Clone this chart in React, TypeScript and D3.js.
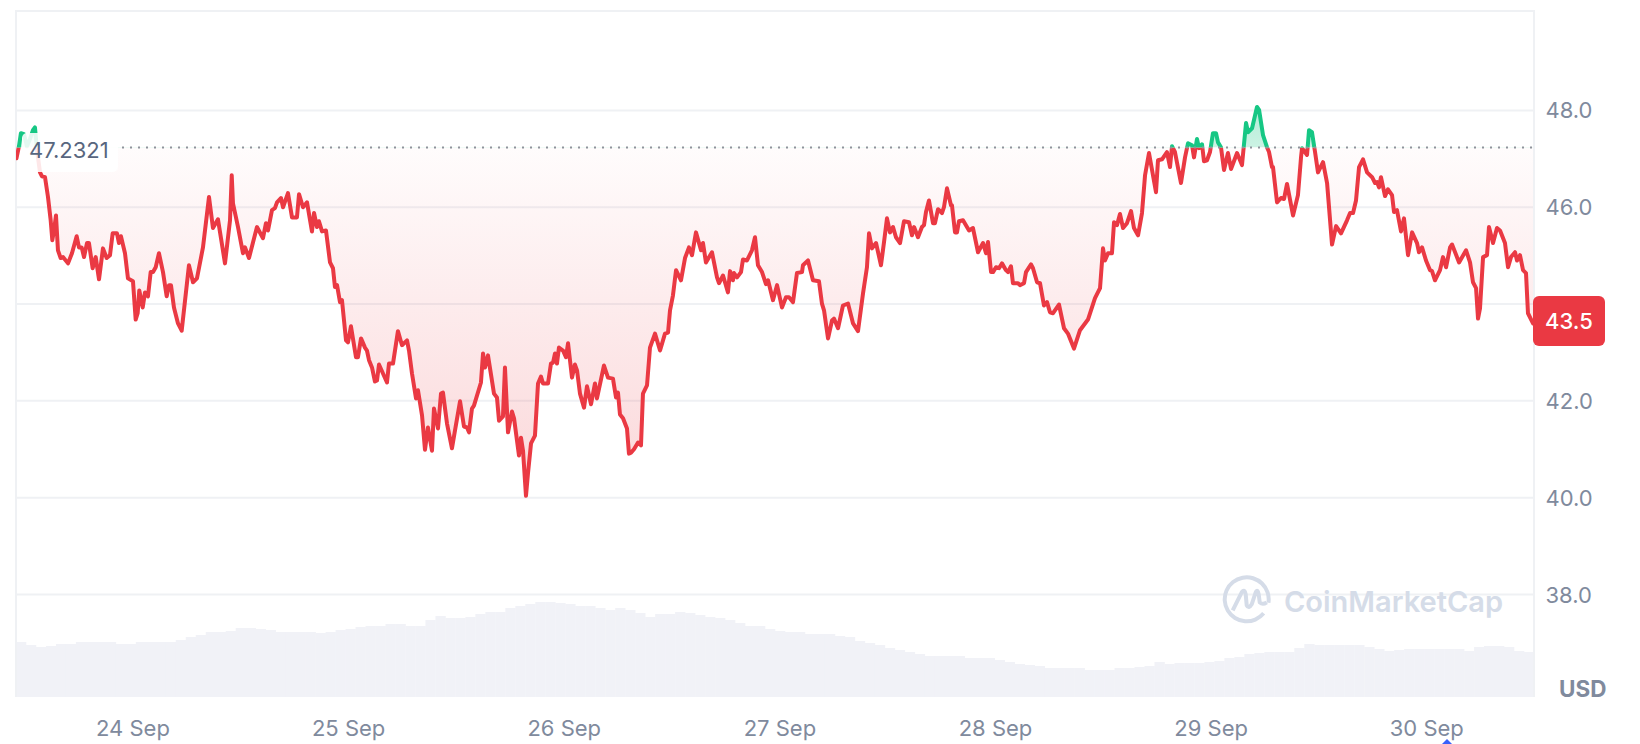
import { useEffect, useRef } from "react";
import * as d3 from "d3";

type Point = [number, number];

// [hours since 24 Sep 00:00, price in USD]
const sep23: Point[] = [
  [-12.97, 47.01], [-12.69, 47.26], [-12.47, 47.53], [-12.13, 47.51], [-11.8, 47.26], [-11.46, 47.41], [-11.13, 47.59], [-10.91, 47.65],
  [-10.68, 47.18], [-10.35, 46.72], [-10.13, 46.64], [-9.79, 46.62], [-9.46, 46.21], [-9.16, 45.73], [-8.98, 45.32], [-8.79, 45.52],
  [-8.57, 45.83], [-8.35, 45.11], [-8.05, 44.95], [-7.79, 44.97], [-7.23, 44.84], [-6.79, 45.05], [-6.27, 45.4], [-6.01, 45.17],
  [-5.71, 45.17], [-5.45, 44.97], [-5.12, 45.26], [-4.9, 45.26], [-4.49, 44.74], [-4.15, 44.97], [-3.78, 44.51], [-3.34, 45.15],
  [-2.93, 44.95], [-2.56, 45.01], [-2.26, 45.46], [-1.78, 45.46], [-1.56, 45.26], [-1.34, 45.4], [-0.89, 45.05], [-0.56, 44.53],
];
const sep24: Point[] = [
  [0, 44.47], [0.3, 43.68], [0.52, 43.81], [0.7, 44.28], [1.08, 43.93], [1.34, 44.24], [1.67, 44.16], [1.97, 44.66], [2.23, 44.66],
  [2.53, 44.76], [2.89, 45.05], [3.34, 44.66], [3.75, 44.16], [4.01, 44.39], [4.23, 44.39], [4.56, 43.93], [5.01, 43.6], [5.42, 43.45],
  [6.23, 44.8], [6.68, 44.45], [7.12, 44.53], [7.79, 45.17], [8.46, 46.21], [8.9, 45.57], [9.46, 45.75], [10.24, 44.84], [10.8, 45.73],
  [10.99, 46.66], [11.13, 46.08], [11.69, 45.59], [12.24, 45.05], [12.47, 45.17], [12.91, 44.95], [13.8, 45.59], [14.47, 45.36],
  [14.8, 45.67], [15.03, 45.52], [15.47, 45.94], [15.8, 45.98], [16.03, 46.1], [16.47, 46.19], [16.7, 46.0], [17.25, 46.29], [17.7, 45.79],
  [18.25, 45.79], [18.48, 46.27], [18.92, 46.0], [19.37, 46.1], [19.92, 45.5], [20.15, 45.88], [20.48, 45.59], [20.7, 45.71], [21.04, 45.5],
  [21.48, 45.52], [21.93, 44.86], [22.26, 44.74], [22.48, 44.35], [22.71, 44.39], [23.04, 44.04], [23.26, 44.08], [23.71, 43.25], [23.93, 43.21],
];
const sep25: Point[] = [
  [24.26, 43.54], [24.82, 42.9], [25.04, 42.9], [25.38, 43.29], [25.82, 43.1], [26.04, 43.04], [26.27, 42.84], [26.6, 42.69], [26.93, 42.4],
  [27.16, 42.42], [27.38, 42.75], [28.27, 42.38], [28.49, 42.77], [28.94, 42.77], [29.49, 43.44], [29.94, 43.15], [30.5, 43.25], [30.72, 43.04],
  [31.05, 42.57], [31.5, 42.05], [31.72, 42.22], [32.17, 41.7], [32.5, 40.99], [32.83, 41.45], [33.28, 40.97], [33.5, 41.84], [33.95, 41.43],
  [34.28, 42.15], [34.5, 42.17], [34.95, 41.53], [35.5, 41.02], [35.84, 41.39], [36.4, 41.99], [36.84, 41.47], [37.17, 41.45], [37.4, 41.35],
  [37.73, 41.84], [37.95, 41.9], [38.73, 42.38], [38.96, 42.98], [39.18, 42.69], [39.51, 42.94], [40.18, 42.15], [40.51, 42.07], [40.74, 41.59],
  [41.18, 41.68], [41.4, 42.69], [41.74, 41.35], [42.18, 41.78], [42.41, 41.64], [42.96, 40.87], [43.18, 41.24], [43.41, 40.97], [43.74, 40.04],
  [43.96, 40.5], [44.3, 41.12], [44.74, 41.28], [45.08, 42.36], [45.41, 42.5], [45.63, 42.36], [46.19, 42.36], [46.52, 42.77], [46.75, 42.79],
  [46.97, 42.98], [47.19, 42.77], [47.41, 43.1], [47.86, 43.04],
];
const sep26: Point[] = [
  [48.19, 42.9], [48.42, 43.19], [48.86, 42.48], [49.19, 42.75], [49.42, 42.63], [49.75, 42.15], [50.2, 41.86], [50.53, 42.3], [50.98, 41.93],
  [51.42, 42.36], [51.64, 42.05], [52.42, 42.73], [52.87, 42.48], [53.42, 42.46], [53.76, 42.07], [53.98, 42.17], [54.2, 41.72], [54.54, 41.64],
  [54.98, 41.43], [55.2, 40.91], [55.43, 40.93], [55.76, 41.0], [56.21, 41.14], [56.54, 41.08], [56.76, 42.15], [57.21, 42.32], [57.54, 43.1],
  [58.1, 43.39], [58.66, 43.04], [59.21, 43.39], [59.55, 43.41], [59.77, 43.87], [60.1, 44.18], [60.44, 44.7], [60.99, 44.49], [61.44, 44.95],
  [61.88, 45.17], [62.22, 45.01], [62.66, 45.48], [63.22, 45.11], [63.44, 45.26], [63.77, 44.86], [64.44, 45.07], [65.0, 44.55], [65.22, 44.43],
  [65.67, 44.59], [66.22, 44.24], [66.45, 44.68], [66.78, 44.49], [66.89, 44.64], [67.23, 44.55], [67.67, 44.66], [67.89, 44.92], [68.34, 44.9],
  [68.89, 45.11], [69.23, 45.38], [69.56, 44.8], [70.01, 44.66], [70.45, 44.41], [70.68, 44.49], [71.23, 44.08], [71.68, 44.39],
];
const sep27: Point[] = [
  [72.23, 43.93], [72.68, 44.14], [73.01, 44.14], [73.46, 44.04], [73.9, 44.64], [74.46, 44.66], [74.57, 44.8], [75.13, 44.9], [75.68, 44.49],
  [76.35, 44.47], [76.68, 44.01], [76.91, 43.87], [77.36, 43.29], [77.8, 43.66], [78.02, 43.7], [78.47, 43.5], [79.02, 43.97], [79.58, 44.01],
  [80.14, 43.6], [80.69, 43.44], [81.25, 44.22], [81.69, 44.76], [81.92, 45.46], [82.25, 45.15], [82.7, 45.26], [83.25, 44.8], [83.59, 45.28],
  [83.92, 45.77], [84.25, 45.48], [84.59, 45.59], [84.92, 45.38], [85.37, 45.26], [85.81, 45.71], [86.37, 45.69], [86.7, 45.42], [86.93, 45.59],
  [87.37, 45.38], [87.81, 45.59], [88.04, 45.63], [88.26, 45.9], [88.59, 46.14], [89.04, 45.67], [89.26, 45.67], [89.6, 45.96], [90.04, 45.88],
  [90.26, 46.0], [90.6, 46.39], [91.04, 46.04], [91.15, 46.04], [91.49, 45.48], [91.71, 45.48], [91.93, 45.71], [92.38, 45.73], [93.05, 45.52],
  [93.49, 45.57], [94.05, 45.07], [94.61, 45.26], [94.94, 45.05], [95.16, 45.28], [95.5, 44.66], [95.72, 44.66],
];
const sep28: Point[] = [
  [96.05, 44.76], [96.39, 44.74], [96.72, 44.84], [97.16, 44.7], [97.39, 44.66], [97.72, 44.78], [97.94, 44.43], [98.5, 44.43], [98.72, 44.39],
  [99.17, 44.43], [99.39, 44.66], [99.95, 44.82], [100.17, 44.74], [100.62, 44.45], [100.95, 44.43], [101.39, 43.97], [101.73, 44.04], [102.06, 43.83],
  [102.4, 43.81], [103.06, 43.99], [103.62, 43.5], [104.06, 43.39], [104.73, 43.08], [105.4, 43.46], [106.29, 43.68], [107.07, 44.12], [107.63, 44.33],
  [107.96, 45.15], [108.18, 44.9], [108.52, 45.05], [108.96, 45.05], [109.19, 45.69], [109.52, 45.63], [109.85, 45.86], [110.19, 45.57], [110.63, 45.67],
  [111.08, 45.92], [111.41, 45.57], [111.86, 45.42], [112.3, 45.88], [112.64, 46.66], [113.08, 47.12], [113.86, 46.31], [114.08, 46.97], [114.53, 46.99],
  [115.08, 47.14], [115.42, 46.83], [115.64, 47.26], [115.97, 47.14], [116.64, 46.5], [117.09, 47.03], [117.42, 47.32], [117.87, 47.28], [118.09, 47.03],
  [118.42, 47.41], [118.65, 47.22], [118.98, 47.3], [119.2, 46.95], [119.54, 46.97], [119.87, 47.14],
];
const sep29: Point[] = [
  [120.2, 47.53], [120.54, 47.53], [120.76, 47.34], [121.09, 47.24], [121.43, 46.77], [121.87, 47.12], [122.21, 46.79], [122.88, 47.12], [123.43, 46.87],
  [123.88, 47.74], [124.1, 47.55], [124.55, 47.63], [125.1, 48.07], [125.33, 48.01], [125.77, 47.49], [126.21, 47.24], [126.44, 47.14], [126.77, 46.83],
  [126.88, 46.83], [127.33, 46.1], [127.77, 46.19], [128.11, 46.17], [128.44, 46.48], [129.11, 45.83], [129.66, 46.25], [130.0, 47.03], [130.11, 47.22],
  [130.67, 47.08], [130.89, 47.59], [131.22, 47.55], [131.56, 47.14], [131.89, 46.72], [132.45, 46.93], [132.9, 46.5], [133.45, 45.23], [133.9, 45.61],
  [134.45, 45.46], [135.12, 45.73], [135.46, 45.88], [135.79, 45.88], [136.12, 46.14], [136.46, 46.83], [136.9, 46.99], [137.35, 46.72], [137.91, 46.62],
  [138.24, 46.5], [138.46, 46.52], [138.68, 46.41], [138.9, 46.62], [139.35, 46.23], [139.68, 46.37], [140.13, 46.25], [140.35, 45.9], [140.68, 45.94],
  [141.13, 45.5], [141.46, 45.77], [141.91, 45.01], [142.36, 45.48], [142.91, 45.26], [143.13, 45.07], [143.47, 45.17], [143.91, 44.9],
];
const sep30: Point[] = [
  [144.36, 44.7], [144.58, 44.68], [144.91, 44.49], [145.47, 44.7], [145.8, 44.97], [146.14, 44.76], [146.59, 45.17], [146.81, 45.23], [147.59, 44.86],
  [148.37, 45.11], [148.81, 44.86], [149.14, 44.45], [149.48, 44.33], [149.7, 43.7], [149.92, 43.91], [150.26, 44.97], [150.7, 45.01], [150.92, 45.59],
  [151.37, 45.26], [151.81, 45.57], [152.15, 45.52], [152.7, 45.26], [153.04, 44.76], [153.37, 44.97], [153.82, 45.07], [154.04, 44.9], [154.37, 45.01],
  [154.71, 44.7], [155.04, 44.64], [155.26, 43.81], [155.82, 43.6],
];

// relative 24h volume, evenly spaced over the window
const volumes = [
  55, 52, 50, 51, 53, 53, 55, 55, 55, 55, 53, 53, 55, 55, 55, 55, 57, 60, 62, 65, 65, 66, 69, 69, 68, 67, 65, 65, 65, 65, 64, 65, 67, 68, 70, 71, 71, 73,
  73, 71, 71, 77, 81, 79, 79, 80, 83, 85, 85, 89, 91, 93, 95, 95, 94, 93, 91, 91, 89, 87, 89, 87, 84, 80, 83, 83, 85, 84, 82, 80, 79, 77, 74, 71, 71, 68,
  66, 65, 65, 63, 63, 63, 61, 60, 56, 54, 52, 49, 47, 45, 43, 41, 41, 41, 41, 39, 39, 39, 37, 35, 33, 32, 31, 29, 29, 29, 29, 27, 27, 27, 29, 29, 30, 31,
  35, 33, 34, 34, 34, 35, 36, 39, 40, 43, 44, 45, 45, 45, 49, 53, 52, 52, 52, 52, 52, 50, 48, 46, 47, 48, 48, 48, 48, 48, 48, 46, 50, 51, 51, 50, 46, 45,
];

const dayLabels = ["24 Sep", "25 Sep", "26 Sep", "27 Sep", "28 Sep", "29 Sep", "30 Sep"];
const priceTicks = [38, 40, 42, 44, 46, 48];
const priceLabels = [38, 40, 42, 46, 48]; // 44.0 sits behind the price tag
const openPrice = 47.2321;
const lastPrice = 43.5;

const prices = [...sep23, ...sep24, ...sep25, ...sep26, ...sep27, ...sep28, ...sep29, ...sep30];

const RED = "#ea3943";
const GREEN = "#16c784";
const GREY = "#808a9d";
const FONT = "Inter, sans-serif";
const MARK = "#d5dce8";

export default function App() {
  const ref = useRef<SVGSVGElement>(null);

  useEffect(() => {
    if (!ref.current) return;
    const svg = d3.select(ref.current);
    svg.selectAll("*").remove();

    const left = 16;
    const right = 1534;
    const top = 11;
    const bottom = 697;

    const x = d3.scaleLinear().domain([-13.02, 155.93]).range([left, right]);
    const y = d3.scaleLinear().domain([38, 48]).range([594.5, 110.4]);
    const volY = d3.scaleLinear().domain([0, 100]).range([bottom, bottom - 100]);
    const volX = d3.scaleBand<number>().domain(d3.range(volumes.length)).range([left, right]);
    const base = y(openPrice);

    const defs = svg.append("defs");
    const redGrad = defs
      .append("linearGradient")
      .attr("id", "redFill")
      .attr("gradientUnits", "userSpaceOnUse")
      .attr("x1", 0)
      .attr("x2", 0)
      .attr("y1", base)
      .attr("y2", y(40));
    redGrad.append("stop").attr("offset", 0).attr("stop-color", RED).attr("stop-opacity", 0.015);
    redGrad.append("stop").attr("offset", 1).attr("stop-color", RED).attr("stop-opacity", 0.2);

    const greenGrad = defs
      .append("linearGradient")
      .attr("id", "greenFill")
      .attr("gradientUnits", "userSpaceOnUse")
      .attr("x1", 0)
      .attr("x2", 0)
      .attr("y1", y(48))
      .attr("y2", base);
    greenGrad.append("stop").attr("offset", 0).attr("stop-color", GREEN).attr("stop-opacity", 0.32);
    greenGrad.append("stop").attr("offset", 1).attr("stop-color", GREEN).attr("stop-opacity", 0.22);

    defs
      .append("clipPath")
      .attr("id", "above")
      .append("rect")
      .attr("x", left)
      .attr("y", top)
      .attr("width", right - left)
      .attr("height", base - top);
    defs
      .append("clipPath")
      .attr("id", "below")
      .append("rect")
      .attr("x", left)
      .attr("y", base)
      .attr("width", right - left)
      .attr("height", bottom - base);

    // volume bars behind everything
    svg
      .append("g")
      .selectAll("rect")
      .data(volumes)
      .enter()
      .append("rect")
      .attr("x", (_, i) => volX(i) ?? 0)
      .attr("y", (d) => volY(d))
      .attr("width", volX.bandwidth() + 0.3)
      .attr("height", (d) => bottom - volY(d))
      .attr("fill", "#f1f2f7");

    // frame and grid
    const gridColor = "#eff1f4";
    svg
      .append("g")
      .selectAll("line")
      .data(priceTicks)
      .enter()
      .append("line")
      .attr("x1", left)
      .attr("x2", right)
      .attr("y1", (d) => y(d))
      .attr("y2", (d) => y(d))
      .attr("stroke", gridColor)
      .attr("stroke-width", 2);
    svg
      .append("path")
      .attr("d", `M${left},${bottom}V${top}H${right}V${bottom}`)
      .attr("fill", "none")
      .attr("stroke", gridColor)
      .attr("stroke-width", 2);

    const area = d3
      .area<Point>()
      .x((d) => x(d[0]))
      .y0(base)
      .y1((d) => y(d[1]));
    const line = d3
      .line<Point>()
      .x((d) => x(d[0]))
      .y((d) => y(d[1]));

    svg.append("path").attr("d", area(prices)).attr("fill", "url(#redFill)").attr("clip-path", "url(#below)");
    svg.append("path").attr("d", area(prices)).attr("fill", "url(#greenFill)").attr("clip-path", "url(#above)");

    // watermark
    const logo = svg.append("g").attr("transform", "translate(1246.7,599.3)").attr("fill", "none");
    logo
      .append("path")
      .attr(
        "d",
        d3.arc()({ innerRadius: 20, outerRadius: 24, startAngle: Math.PI * 0.72, endAngle: Math.PI * 2.55 }) as string
      )
      .attr("fill", MARK);
    logo
      .append("path")
      .attr("d", "M-14,11 L-5,-7 Q-2,-11 -1,-5 L0,6 Q2,10 5,5 L9,-7 Q11,-11 12,-5 L13,3 Q16,6 20,3")
      .attr("stroke", MARK)
      .attr("stroke-width", 4)
      .attr("stroke-linejoin", "round");
    svg
      .append("text")
      .attr("x", 1284)
      .attr("y", 612)
      .attr("font-family", FONT)
      .attr("font-size", 29)
      .attr("font-weight", 600)
      .attr("fill", MARK)
      .text("CoinMarketCap");

    const stroke = (clip: string, color: string) =>
      svg
        .append("path")
        .attr("d", line(prices))
        .attr("fill", "none")
        .attr("stroke", color)
        .attr("stroke-width", 4)
        .attr("stroke-linejoin", "round")
        .attr("stroke-linecap", "round")
        .attr("clip-path", `url(#${clip})`);
    stroke("below", RED);
    stroke("above", GREEN);

    // opening price line and label
    svg
      .append("line")
      .attr("x1", 122)
      .attr("x2", right)
      .attr("y1", base)
      .attr("y2", base)
      .attr("stroke", "#8f939c")
      .attr("stroke-width", 2)
      .attr("stroke-dasharray", "2 6");
    svg
      .append("rect")
      .attr("x", 22)
      .attr("y", 133)
      .attr("width", 96)
      .attr("height", 39)
      .attr("rx", 5)
      .attr("fill", "#fff")
      .attr("fill-opacity", 0.88);
    svg
      .append("text")
      .attr("x", 29)
      .attr("y", 158)
      .attr("font-family", FONT)
      .attr("font-size", 22)
      .attr("fill", "#58667e")
      .text(d3.format(".4f")(openPrice));

    // axes
    svg
      .append("g")
      .selectAll("text")
      .data(priceLabels)
      .enter()
      .append("text")
      .attr("x", 1545.5)
      .attr("y", (d) => y(d) + 8)
      .attr("font-family", FONT)
      .attr("font-size", 22)
      .attr("fill", GREY)
      .text((d) => d3.format(".1f")(d));
    svg
      .append("g")
      .selectAll("text")
      .data(dayLabels)
      .enter()
      .append("text")
      .attr("x", (_, i) => x(i * 24))
      .attr("y", 736)
      .attr("text-anchor", "middle")
      .attr("font-family", FONT)
      .attr("font-size", 22)
      .attr("fill", GREY)
      .text((d) => d);
    svg
      .append("text")
      .attr("x", 1559)
      .attr("y", 697)
      .attr("font-family", FONT)
      .attr("font-size", 22.5)
      .attr("font-weight", 700)
      .attr("fill", GREY)
      .text("USD");

    // current price tag
    svg
      .append("rect")
      .attr("x", 1533)
      .attr("y", 296)
      .attr("width", 72)
      .attr("height", 50)
      .attr("rx", 6)
      .attr("fill", RED);
    svg
      .append("text")
      .attr("x", 1569)
      .attr("y", 329)
      .attr("text-anchor", "middle")
      .attr("font-family", FONT)
      .attr("font-size", 22)
      .attr("font-weight", 500)
      .attr("fill", "#fff")
      .text(d3.format(".1f")(lastPrice));

    // bit of the marker cut off by the bottom of the picture
    svg.append("path").attr("d", "M1442,744 L1447,739 L1452,744 Z").attr("fill", "#3861fb");
  }, []);

  return <svg ref={ref} width={1640} height={744} style={{ position: "absolute", left: 0, top: 0, display: "block" }} />;
}
